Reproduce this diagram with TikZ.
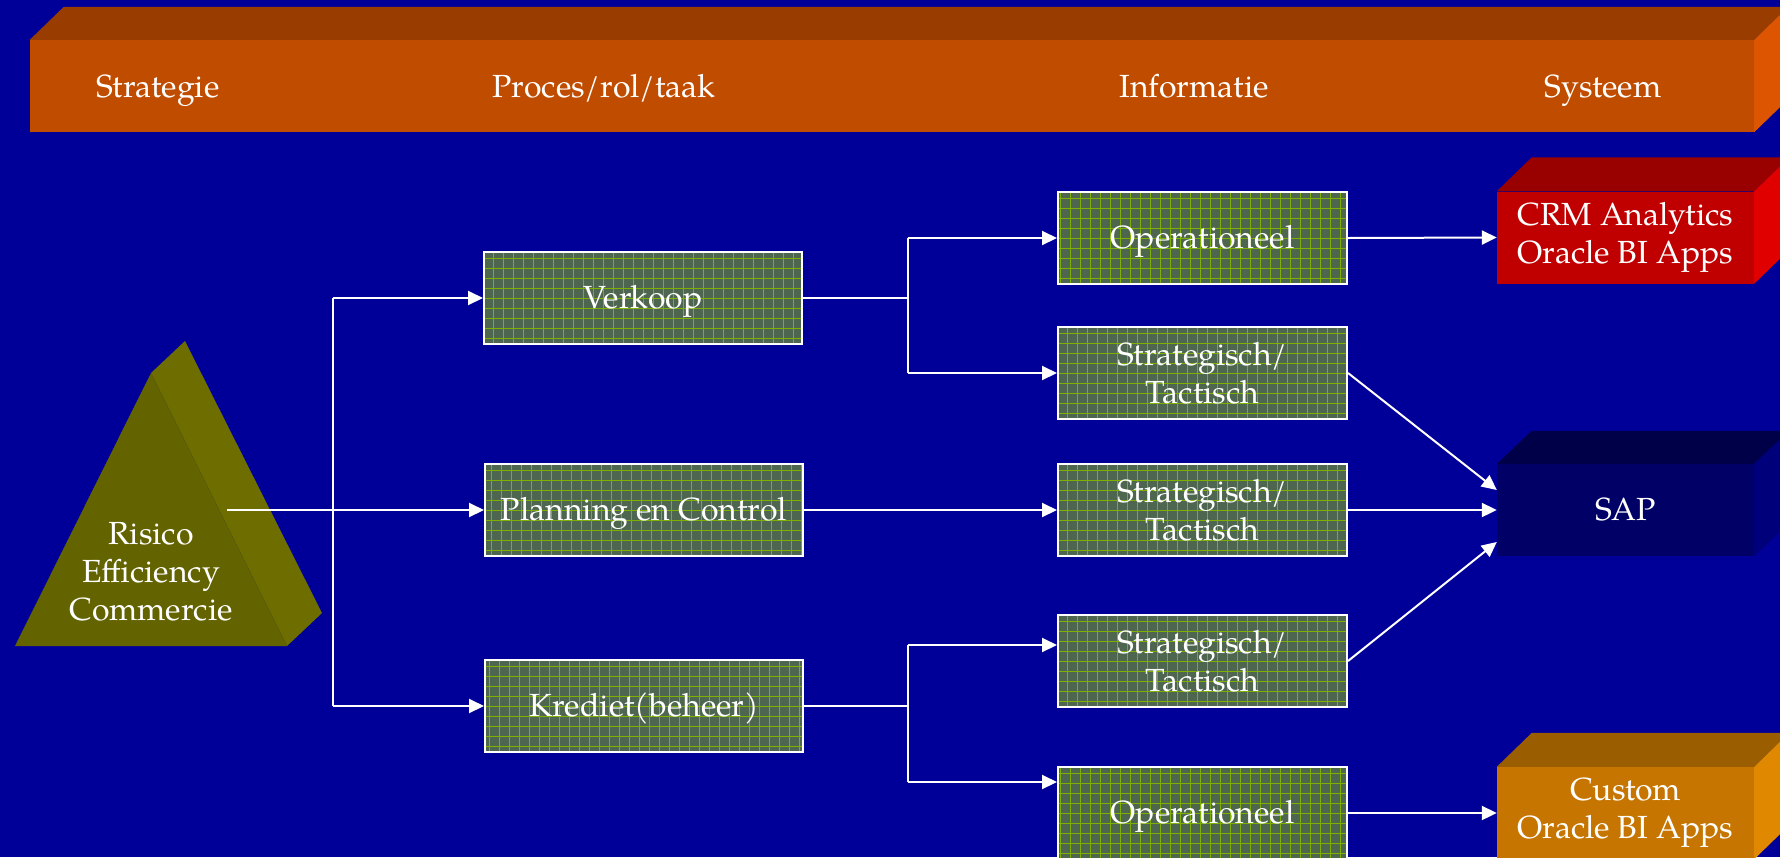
\documentclass[tikz,border=0pt]{standalone}
\usepackage{fontspec}
\setmainfont{texgyrepagella-regular.otf}
\usetikzlibrary{arrows.meta,calc}
\definecolor{bg}{HTML}{000099}
\definecolor{bartop}{HTML}{993C00}
\definecolor{barfront}{HTML}{C04C00}
\definecolor{barright}{HTML}{DD5500}
\definecolor{pyrfront}{HTML}{636300}
\definecolor{pyrside}{HTML}{6E6E00}
\definecolor{gfill}{HTML}{4E6650}
\definecolor{gline}{HTML}{7DB000}
\definecolor{crmf}{HTML}{C00000}
\definecolor{crmt}{HTML}{990000}
\definecolor{crmr}{HTML}{E00000}
\definecolor{sapf}{HTML}{000066}
\definecolor{sapt}{HTML}{000048}
\definecolor{sapr}{HTML}{00007A}
\definecolor{cusf}{HTML}{C67600}
\definecolor{cust}{HTML}{9A5E00}
\definecolor{cusr}{HTML}{E08800}
\tikzset{
  txt/.style={text=white, font=\fontsize{32}{38}\selectfont, align=center, inner sep=0pt},
  one/.style={text height=26pt, text depth=6pt},
  gbox/.style={txt, draw=white, line width=2pt, fill=gfill, minimum height=92pt,
    path picture={\draw[gline, line width=0.8pt, step=10pt] (path picture bounding box.south west) grid (path picture bounding box.north east);}},
  pbox/.style={gbox, minimum width=318pt},
  ibox/.style={gbox, minimum width=289pt},
  front/.style={txt, minimum width=257pt, minimum height=92pt},
  plain/.style={draw=white, line width=2pt},
  conn/.style={plain, -{Triangle[length=15pt,width=14pt]}},
}
\begin{document}
\begin{tikzpicture}[x=1pt,y=-1pt]
\useasboundingbox (0,0) rectangle (1780,857);
\clip (0,0) rectangle (1780,857);
\fill[bg] (0,0) rectangle (1780,857);

% header bar
\node[txt, fill=barfront, minimum width=1724pt, minimum height=92pt] (bar) at (892,86) {};
\fill[bartop] (bar.north west) -- ++(34,-33) -- ($(bar.north east)+(34,-33)$) -- (bar.north east) -- cycle;
\fill[barright] (bar.north east) -- ++(34,-33) -- ($(bar.south east)+(34,-33)$) -- (bar.south east) -- cycle;
\node[txt, anchor=base] (h1) at (158,97) {Strategie};
\node[txt, anchor=base] (h2) at (604,97) {Proces/rol/taak};
\node[txt, anchor=base] (h3) at (1194,97) {Informatie};
\node[txt, anchor=base] (h4) at (1603,97) {Systeem};

% pyramid
\fill[pyrside] (151,373) -- (185,341) -- (322,613) -- (287,646) -- cycle;
\fill[pyrfront] (151,373) -- (15,646) -- (287,646) -- cycle;
\node[txt] (pyr) at (151,572) {Risico\\Efficiency\\Commercie};
\coordinate (pyrout) at (227,510);

% process boxes
\node[pbox, one] (verk) at (643,298) {Verkoop};
\node[pbox, one] (plan) at (644,510) {Planning en Control};
\node[pbox, one] (kred) at (644,706) {Krediet(beheer)};

% information boxes
\node[ibox, one] (op1) at (1202.5,238) {Operationeel};
\node[ibox] (st1) at (1202.5,373) {Strategisch/\\Tactisch};
\node[ibox] (st2) at (1202.5,510) {Strategisch/\\Tactisch};
\node[ibox] (st3) at (1202.5,661) {Strategisch/\\Tactisch};
\node[ibox, one] (op2) at (1202.5,813) {Operationeel};

% system boxes
\node[front, fill=crmf] (crm) at (1625.5,237.5) {CRM Analytics\\Oracle BI Apps};
\fill[crmt] (crm.north west) -- ++(35,-34) -- ($(crm.north east)+(35,-34)$) -- (crm.north east) -- cycle;
\fill[crmr] (crm.north east) -- ++(35,-34) -- ($(crm.south east)+(35,-34)$) -- (crm.south east) -- cycle;

\node[front, fill=sapf, one] (sap) at (1625.5,510) {SAP};
\fill[sapt] (sap.north west) -- ++(35,-33) -- ($(sap.north east)+(35,-33)$) -- (sap.north east) -- cycle;
\fill[sapr] (sap.north east) -- ++(35,-33) -- ($(sap.south east)+(35,-33)$) -- (sap.south east) -- cycle;

\node[front, fill=cusf] (cus) at (1625.5,813) {Custom\\Oracle BI Apps};
\fill[cust] (cus.north west) -- ++(35,-34) -- ($(cus.north east)+(35,-34)$) -- (cus.north east) -- cycle;
\fill[cusr] (cus.north east) -- ++(35,-34) -- ($(cus.south east)+(35,-34)$) -- (cus.south east) -- cycle;

% connectors: strategy -> processes
\coordinate (busa) at (333,0);
\draw[conn] (pyrout) -- (plan.west);
\draw[plain] (busa |- verk.west) -- (busa |- kred.west);
\draw[conn] (busa |- verk.west) -- (verk.west);
\draw[conn] (busa |- kred.west) -- (kred.west);

% processes -> information
\coordinate (busb) at (908,0);
\coordinate (st3in) at ([yshift=16pt]st3.west);
\coordinate (op2in) at ([yshift=31pt]op2.west);
\draw[plain] (verk.east) -- (busb |- verk.east);
\draw[plain] (busb |- op1.west) -- (busb |- st1.west);
\draw[conn] (busb |- op1.west) -- (op1.west);
\draw[conn] (busb |- st1.west) -- (st1.west);
\draw[conn] (plan.east) -- (st2.west);
\draw[plain] (kred.east) -- (busb |- kred.east);
\draw[plain] (busb |- st3in) -- (busb |- op2in);
\draw[conn] (busb |- st3in) -- (st3in);
\draw[conn] (busb |- op2in) -- (op2in);

% information -> systems
\draw[conn] (op1.east) -- (crm.west);
\draw[conn] (st1.east) -- ([yshift=20pt]sap.west);
\draw[conn] (st2.east) -- (sap.west);
\draw[conn] (st3.east) -- ([yshift=-32pt]sap.west);
\draw[conn] (op2.east) -- (cus.west);
\end{tikzpicture}
\end{document}
